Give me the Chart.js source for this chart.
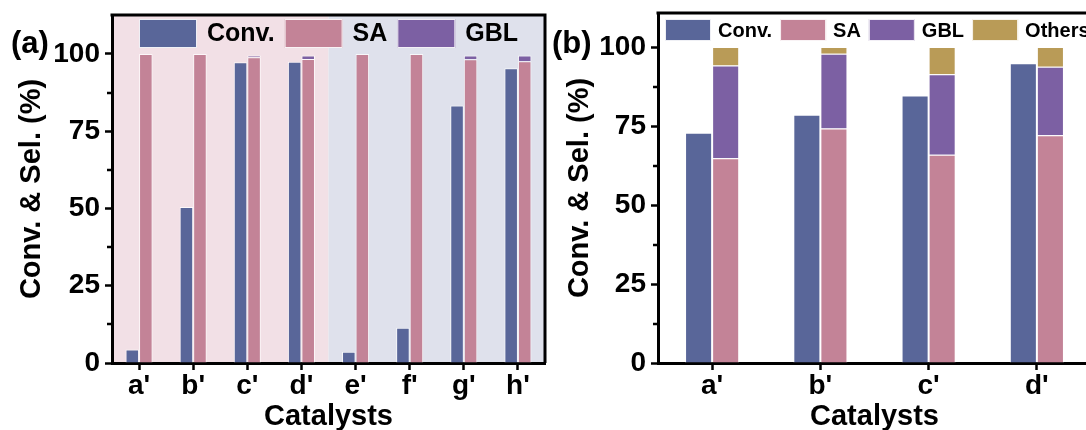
<!DOCTYPE html>
<html>
<head>
<meta charset="utf-8">
<script src="https://cdn.jsdelivr.net/npm/chart.js@4.4.1/dist/chart.umd.min.js"></script>
<style>
  html, body { margin: 0; padding: 0; background: #fff; overflow: hidden; }
  body { width: 1086px; height: 430px; position: relative; font-family: "Liberation Sans", Arial, sans-serif; }
  .panel { position: absolute; top: 0; height: 434px; }
  #panel-a { left: 0; width: 552px; }
  #panel-b { left: 548px; width: 560px; }
  .tag { position: absolute; top: 26px; font-weight: bold; font-size: 31px; line-height: 34px; color: #000; }
</style>
</head>
<body>
<div class="panel" id="panel-a"><canvas id="chart-a" width="552" height="434"></canvas></div>
<div class="panel" id="panel-b"><canvas id="chart-b" width="560" height="434"></canvas></div>
<div class="tag" style="left:11px">(a)</div>
<div class="tag" style="left:552px">(b)</div>
<script>
// panel (a): conversion and selectivity per catalyst
const catsA = ["a'", "b'", "c'", "d'", "e'", "f'", "g'", "h'"];
const convA = [4.4, 50.5, 97.3, 97.5, 3.6, 11.4, 83.3, 95.4];
const saA = [100, 100, 98.9, 98.4, 100, 100, 98.3, 97.6];
const gblA = [0, 0, 0.6, 1.1, 0, 0, 1.2, 1.9];

// panel (b)
const catsB = ["a'", "b'", "c'", "d'"];
const convB = [72.9, 78.6, 84.7, 94.9];
const saB = [64.8, 74.2, 65.9, 72.1];
const gblB = [29.4, 23.7, 25.5, 21.7];
const othersB = [5.8, 2.1, 8.6, 6.2];

const minorTicks = [12.5, 37.5, 62.5, 87.5];

const COLORS = {
  conv: "#596699",
  sa: "#c38397",
  gbl: "#7c60a3",
  others: "#b99b57",
};
const FONT = "'Liberation Sans', Arial, sans-serif";

// two-tone backdrop behind the bars, split between the 4th and 5th catalyst
const splitBackground = {
  id: "splitBackground",
  beforeDraw(chart, args, opts) {
    if (!opts.colors) return;
    const { ctx, chartArea } = chart;
    const x = chart.scales.x;
    const mid = (x.getPixelForValue(opts.splitAfter) + x.getPixelForValue(opts.splitAfter + 1)) / 2;
    ctx.save();
    ctx.fillStyle = opts.colors[0];
    ctx.fillRect(chartArea.left, chartArea.top, mid - chartArea.left, chartArea.bottom - chartArea.top);
    ctx.fillStyle = opts.colors[1];
    ctx.fillRect(mid, chartArea.top, chartArea.right - mid, chartArea.bottom - chartArea.top);
    ctx.restore();
  },
};

// top/right frame lines and the short minor ticks on y
const frame = {
  id: "frame",
  afterDraw(chart, args, opts) {
    const { ctx, chartArea } = chart;
    const y = chart.scales.y;
    ctx.save();
    ctx.strokeStyle = "#000";
    ctx.lineWidth = 3;
    ctx.beginPath();
    ctx.moveTo(chartArea.left - 1.5, chartArea.top);
    ctx.lineTo(chartArea.right, chartArea.top);
    if (opts.right) {
      ctx.lineTo(chartArea.right, chartArea.bottom);
    }
    ctx.stroke();
    ctx.lineWidth = 2.5;
    minorTicks.forEach((v) => {
      const py = Math.round(y.getPixelForValue(v));
      ctx.beginPath();
      ctx.moveTo(chartArea.left - 5, py);
      ctx.lineTo(chartArea.left, py);
      ctx.stroke();
    });
    ctx.restore();
  },
};

// legend drawn inside the plot frame
const insideLegend = {
  id: "insideLegend",
  afterDraw(chart, args, opts) {
    const { ctx } = chart;
    ctx.save();
    ctx.font = `bold ${opts.fontSize}px ${FONT}`;
    ctx.textBaseline = "middle";
    let x = opts.x;
    chart.data.datasets.forEach((ds) => {
      ctx.fillStyle = ds.backgroundColor;
      ctx.fillRect(x, opts.y, opts.boxWidth, opts.boxHeight);
      ctx.strokeStyle = "rgba(255,255,255,0.9)";
      ctx.lineWidth = 1;
      ctx.strokeRect(x + 0.5, opts.y + 0.5, opts.boxWidth - 1, opts.boxHeight - 1);
      x += opts.boxWidth + opts.textGap;
      ctx.fillStyle = "#000";
      ctx.fillText(ds.label, x, opts.y + opts.boxHeight / 2 + 1);
      x += ctx.measureText(ds.label).width + opts.itemGap;
    });
    ctx.restore();
  },
};

function barSet(label, data, color, stack) {
  return {
    label: label,
    data: data,
    stack: stack,
    backgroundColor: color,
    borderColor: "rgba(255,255,255,0.75)",
    borderWidth: 1,
    categoryPercentage: 0.5,
    barPercentage: 1.0,
  };
}

function makeOptions(cfg) {
  return {
    responsive: false,
    animation: false,
    layout: { padding: cfg.padding },
    plugins: {
      legend: { display: false },
      tooltip: { enabled: false },
      splitBackground: cfg.background || {},
      frame: { right: cfg.rightFrame },
      insideLegend: cfg.legend,
    },
    scales: {
      x: {
        border: { display: true, width: 3, color: "#000" },
        grid: {
          display: true,
          offset: false,
          drawOnChartArea: false,
          drawTicks: true,
          tickLength: 7,
          tickWidth: 2.5,
          tickColor: "#000",
        },
        ticks: {
          color: "#000",
          padding: -1,
          maxRotation: 0,
          autoSkip: false,
          font: { family: FONT, size: 28, weight: "bold" },
        },
        title: {
          display: true,
          text: "Catalysts",
          color: "#000",
          padding: { top: 0, bottom: 0 },
          font: { family: FONT, size: 29, weight: "bold" },
        },
        afterFit: (s) => {
          s.height = 71;
          s.paddingLeft = 0;
          s.paddingRight = 0;
        },
      },
      y: {
        stacked: true,
        min: 0,
        max: cfg.yMax,
        border: { display: true, width: 3, color: "#000" },
        grid: {
          display: true,
          drawOnChartArea: false,
          drawTicks: true,
          tickLength: 7,
          tickWidth: 2.5,
          tickColor: "#000",
        },
        ticks: {
          stepSize: 25,
          includeBounds: false,
          padding: 5,
          color: "#000",
          font: { family: FONT, size: 28, weight: "bold" },
        },
        title: {
          display: true,
          text: "Conv. & Sel. (%)",
          color: "#000",
          padding: { top: 15, bottom: 0 },
          font: { family: FONT, size: 29, weight: "bold" },
        },
        afterFit: (s) => {
          s.width = cfg.yWidth;
          s.paddingTop = 0;
          s.paddingBottom = 0;
        },
      },
    },
  };
}

new Chart(document.getElementById("chart-a"), {
  type: "bar",
  data: {
    labels: catsA,
    datasets: [
      barSet("Conv.", convA, COLORS.conv, "conv"),
      barSet("SA", saA, COLORS.sa, "sel"),
      barSet("GBL", gblA, COLORS.gbl, "sel"),
    ],
  },
  options: makeOptions({
    padding: { left: 0, right: 7, top: 15, bottom: 0 },
    yMax: 112.6,
    yWidth: 112,
    rightFrame: true,
    background: { colors: ["#f2e0e6", "#dfe1ec"], splitAfter: 3 },
    legend: { x: 139, y: 19, boxWidth: 58, boxHeight: 29, textGap: 10, itemGap: 10, fontSize: 25 },
  }),
  plugins: [splitBackground, frame, insideLegend],
});

new Chart(document.getElementById("chart-b"), {
  type: "bar",
  data: {
    labels: catsB,
    datasets: [
      barSet("Conv.", convB, COLORS.conv, "conv"),
      barSet("SA", saB, COLORS.sa, "sel"),
      barSet("GBL", gblB, COLORS.gbl, "sel"),
      barSet("Others", othersB, COLORS.others, "sel"),
    ],
  },
  options: makeOptions({
    padding: { left: 0, right: 17, top: 13, bottom: 0 },
    yMax: 110.8,
    yWidth: 110,
    rightFrame: false,
    legend: { x: 117, y: 19, boxWidth: 46, boxHeight: 22, textGap: 7, itemGap: 8, fontSize: 20 },
  }),
  plugins: [splitBackground, frame, insideLegend],
});
</script>
</body>
</html>
